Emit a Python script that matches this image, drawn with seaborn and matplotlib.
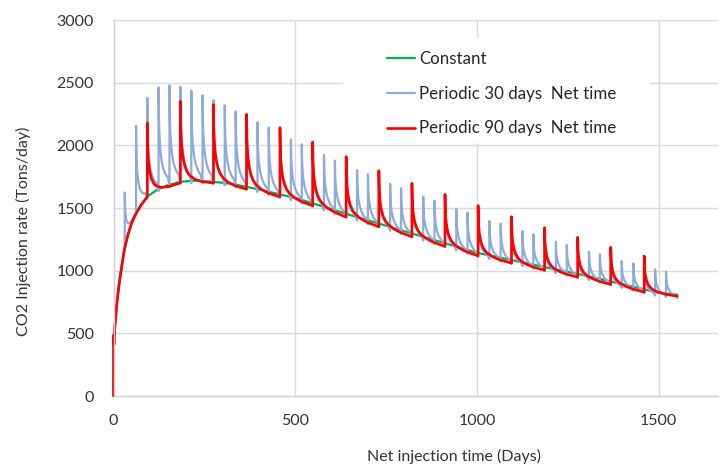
import numpy as np
import pandas as pd
import matplotlib
matplotlib.use("Agg")
import matplotlib.pyplot as plt
from matplotlib.patches import Rectangle
import seaborn as sns

# ---------------- data ----------------
# Constant injection (green)
const_days = [0, 0.3, 1.5, 4, 10, 15, 20, 30, 40, 50, 60, 75, 95, 122, 150, 186,
              223, 260, 297, 333, 400, 504, 651, 800, 1000, 1146, 1300, 1500, 1551]
const_rates = [0, 487, 410, 560, 760, 880, 985, 1170, 1290, 1380, 1445, 1520, 1596,
               1649, 1683, 1710, 1718, 1712, 1702, 1689, 1648, 1577, 1444, 1315,
               1143, 1053, 960, 824, 808]

# Periodic 30 days (blue): day of each restart spike, spike peak, and the rate
# just before each spike (last entry = rate at end of record)
p30_days = [31, 62, 93, 124, 154, 184, 214, 245, 275, 306, 336, 366, 396, 427, 458,
            488, 518, 548, 579, 609, 640, 670, 700, 730, 761, 791, 821, 852, 883,
            912, 943, 974, 1003, 1034, 1065, 1095, 1125, 1155, 1186, 1217, 1247,
            1277, 1308, 1338, 1368, 1398, 1430, 1460, 1490, 1520]
p30_peaks = [1624, 2155, 2379, 2462, 2480, 2467, 2438, 2398, 2360, 2318, 2270, 2225,
             2184, 2141, 2095, 2048, 2008, 1965, 1923, 1878, 1840, 1803, 1769, 1730,
             1693, 1657, 1625, 1590, 1558, 1525, 1492, 1463, 1430, 1396, 1375, 1345,
             1316, 1290, 1260, 1231, 1205, 1178, 1151, 1130, 1103, 1077, 1058, 1035,
             1010, 992]
p30_lows = [1190, 1440, 1575, 1635, 1670, 1695, 1700, 1698, 1690, 1680, 1667, 1647,
            1628, 1605, 1583, 1562, 1538, 1510, 1481, 1454, 1425, 1398, 1372, 1346,
            1319, 1293, 1267, 1240, 1214, 1189, 1162, 1135, 1111, 1092, 1073, 1054,
            1036, 1017, 998, 979, 961, 943, 925, 904, 884, 863, 841, 821, 801, 790,
            782]

# Periodic 90 days (red)
p90_days = [93, 184, 275, 366, 458, 548, 640, 730, 821, 912, 1003, 1095, 1186, 1277,
            1368, 1460]
p90_peaks = [2178, 2352, 2325, 2248, 2141, 2026, 1910, 1798, 1697, 1609, 1519, 1431,
             1343, 1266, 1186, 1117]
p90_lows = [1590, 1700, 1700, 1650, 1588, 1518, 1427, 1350, 1270, 1193, 1118, 1060,
            1003, 948, 890, 828, 796]

end_day = 1551

# decay of the rate after a restart spike, read off one spike in the picture
# (days after restart, fraction of the spike height still remaining)
decay_days = [0, 0.5, 1, 2, 3.5, 5.5, 8, 12, 18, 26, 40, 60]
decay_frac = [1, 0.82, 0.7, 0.57, 0.46, 0.37, 0.29, 0.21, 0.14, 0.09, 0.045, 0.015]

x_ticks = [0, 500, 1000, 1500]
y_ticks = [0, 500, 1000, 1500, 2000, 2500, 3000]


def periodic_curve(days, peaks, lows):
    xs = [d for d in const_days if d < days[0]]
    ys = [r for d, r in zip(const_days, const_rates) if d < days[0]]
    xs.append(days[0]); ys.append(lows[0])
    bounds = list(days) + [end_day]
    for k, (d0, pk) in enumerate(zip(days, peaks)):
        d1 = bounds[k + 1]
        a, b = lows[k], lows[k + 1]
        period = d1 - d0
        for t, f in zip(decay_days, decay_frac):
            if t >= period:
                break
            xs.append(d0 + t)
            ys.append(a + (b - a) * t / period + (pk - a) * f)
        xs.append(d1); ys.append(b)
    return xs, ys


x30, y30 = periodic_curve(p30_days, p30_peaks, p30_lows)
x90, y90 = periodic_curve(p90_days, p90_peaks, p90_lows)

df_const = pd.DataFrame({"day": const_days, "rate": const_rates})
df30 = pd.DataFrame({"day": x30, "rate": y30})
df90 = pd.DataFrame({"day": x90, "rate": y90})

# ---------------- drawing ----------------
sns.set_style("white")
plt.rcParams["font.family"] = ["Lato", "DejaVu Sans"]

fig = plt.figure(figsize=(7.2, 4.65), dpi=100)
ax = fig.add_axes([113.5 / 720, 1 - 396 / 465, (718 - 113.5) / 720, (396 - 20) / 465])

sns.lineplot(data=df_const, x="day", y="rate", ax=ax, color="#00B050", lw=1.6,
             sort=False, estimator=None, label="Constant", clip_on=False)
sns.lineplot(data=df30, x="day", y="rate", ax=ax, color="#8FAADC", lw=1.6,
             sort=False, estimator=None, label="Periodic 30 days  Net time",
             clip_on=False)
sns.lineplot(data=df90, x="day", y="rate", ax=ax, color="#FF0000", lw=1.9,
             sort=False, estimator=None, label="Periodic 90 days  Net time",
             clip_on=False)

ax.set_xlim(0, 1663)
ax.set_ylim(0, 3000)
ax.set_xticks(x_ticks)
ax.set_yticks(y_ticks)
ax.grid(True, color="#D9D9D9", lw=1.0)
ax.set_axisbelow(True)
for s in ["top", "right"]:
    ax.spines[s].set_visible(False)
for s in ["left", "bottom"]:
    ax.spines[s].set_color("#D0D0D0")
    ax.spines[s].set_linewidth(1.0)
ax.tick_params(axis="both", length=0, labelsize=11.5, colors="#333333")
ax.tick_params(axis="x", pad=13)
ax.tick_params(axis="y", pad=14)

ax.set_xlabel("Net injection time (Days)", fontsize=11.5, color="#333333")
ax.set_ylabel("CO2 Injection rate (Tons/day)", fontsize=11.5, color="#333333")
ax.xaxis.set_label_coords((454 - 113.5) / (718 - 113.5), -(449 - 396) / 376)
ax.yaxis.set_label_coords(-(113.5 - 31) / 604.5, (396 - 231) / 376)

# white legend area (covers the gridlines behind the legend like the reference)
ax.add_patch(Rectangle((0.3797, 0.681), 0.5078, 0.271, transform=ax.transAxes,
                       facecolor="white", edgecolor="none", zorder=1))

leg = ax.legend(loc="upper left", bbox_to_anchor=(0.442, 0.935), borderaxespad=0,
                frameon=True, fontsize=12.2, handlelength=1.6, handletextpad=0.25,
                labelspacing=1.1, borderpad=0.4)
leg.get_frame().set_facecolor("white")
leg.get_frame().set_edgecolor("none")
leg.get_frame().set_alpha(1)
for t in leg.get_texts():
    t.set_color("#262626")

fig.savefig("out.png", dpi=100)
